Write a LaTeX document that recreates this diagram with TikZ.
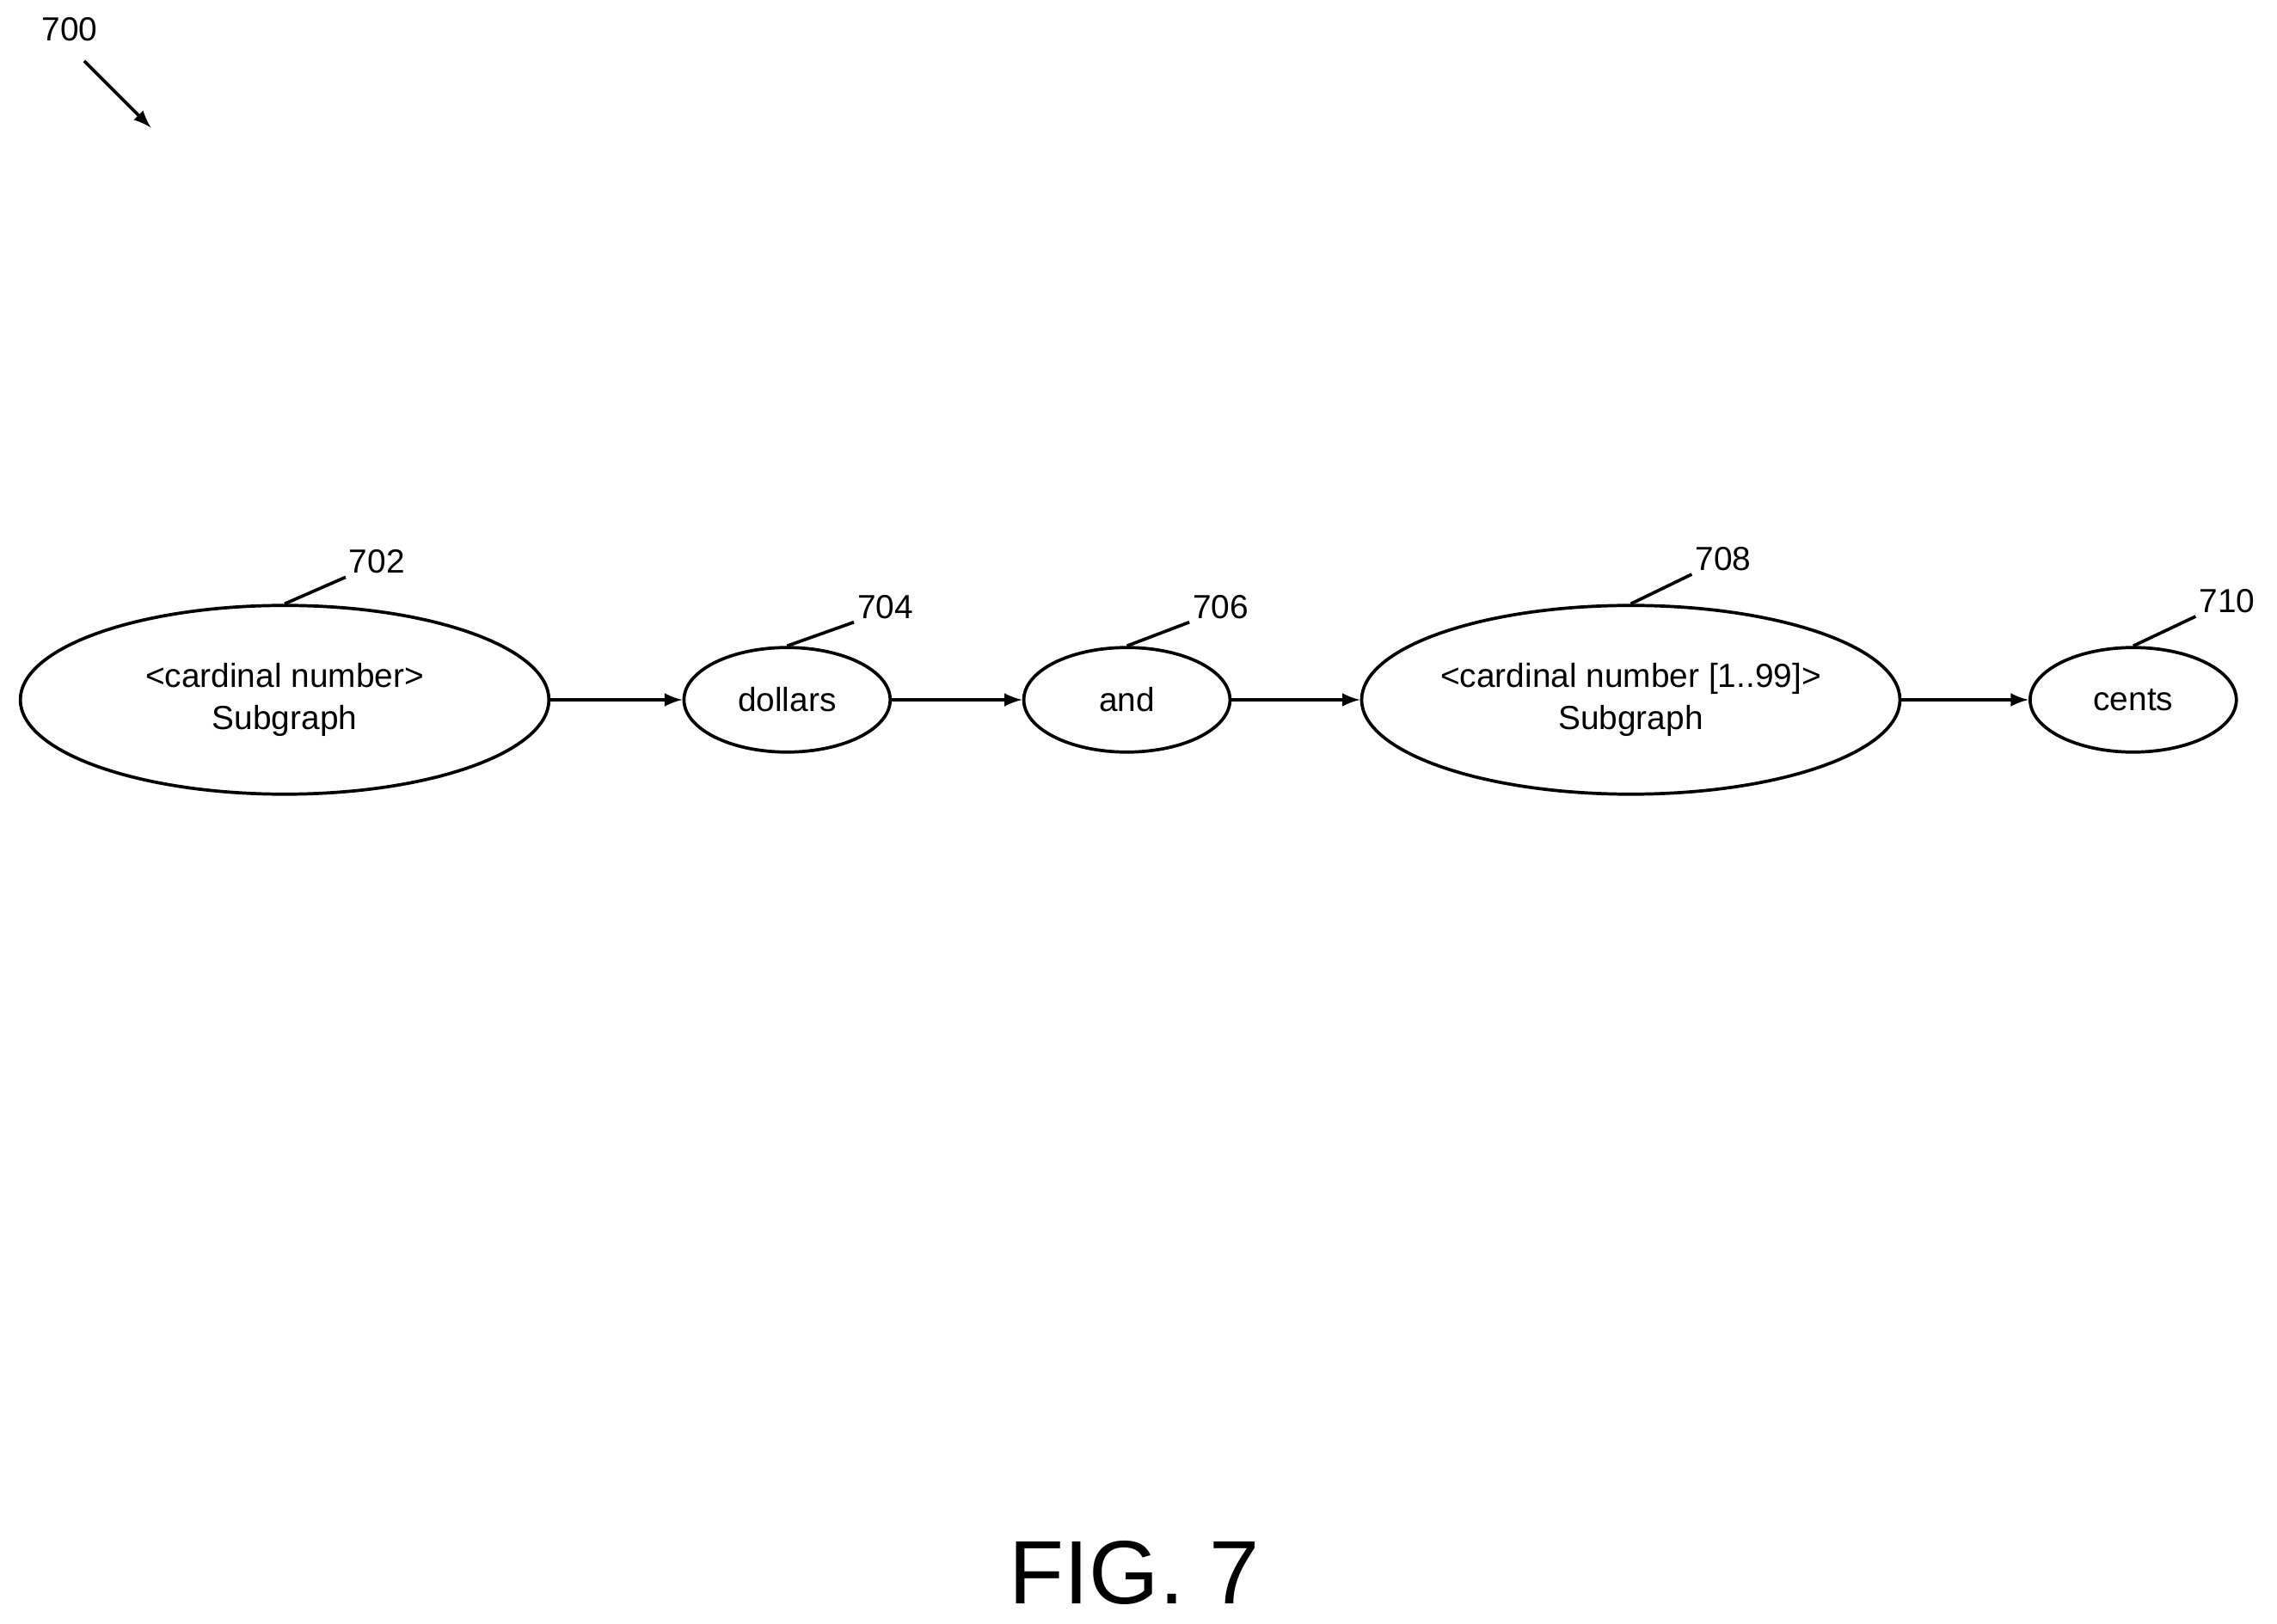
\documentclass[tikz,border=0pt]{standalone}
\usepackage{fontspec}
\setmainfont{Liberation Sans}
\usetikzlibrary{shapes.geometric}
\tikzset{
  state/.style = {ellipse, draw, line width=1.1pt, inner sep=0pt,
                  minimum width=#1, align=center,
                  font=\fontsize{11.5}{14.5}\selectfont},
  big/.style   = {state=182pt, minimum height=65pt},
  small/.style = {state=71pt, minimum height=36pt},
  flow/.style  = {-latex, line width=1.1pt},
  lead/.style  = {line width=1.1pt},
  refnum/.style = {anchor=west, inner sep=1pt, font=\fontsize{11.5}{14}\selectfont}
}
\begin{document}
\begin{tikzpicture}[x=0.5pt, y=-0.5pt]
	\useasboundingbox (0,0) rectangle (1568,1118);

	% Nodes
	\node[big]   (card)    at (196,482)  {<cardinal number>\\Subgraph};
	\node[small] (dollars) at (542,482)  {dollars};
	\node[small] (and)     at (776,482)  {and};
	\node[big]   (cardb)   at (1123,482) {<cardinal number [1..99]>\\Subgraph};
	\node[small] (cents)   at (1469,482) {cents};

	% Flow
	\draw[flow] (card) -- (dollars);
	\draw[flow] (dollars) -- (and);
	\draw[flow] (and) -- (cardb);
	\draw[flow] (cardb) -- (cents);

	% Reference numerals
	\node[refnum] (n702) at (238,387) {702};
	\node[refnum] (n704) at (588,418) {704};
	\node[refnum] (n706) at (819,418) {706};
	\node[refnum] (n708) at (1165,385) {708};
	\node[refnum] (n710) at (1512,414) {710};
	\draw[lead] (card.north) -- (n702.south west);
	\draw[lead] (dollars.north) -- (n704.south west);
	\draw[lead] (and.north) -- (n706.south west);
	\draw[lead] (cardb.north) -- (n708.south west);
	\draw[lead] (cents.north) -- (n710.south west);

	\node[font=\fontsize{11.5}{14}\selectfont] (n700) at (48,20) {700};
	\coordinate (tip) at (104,88);
	\draw[flow] (58,42) -- (tip);

	\node[font=\fontsize{31}{36}\selectfont] (fig) at (781,1083) {FIG. 7};
\end{tikzpicture}
\end{document}
